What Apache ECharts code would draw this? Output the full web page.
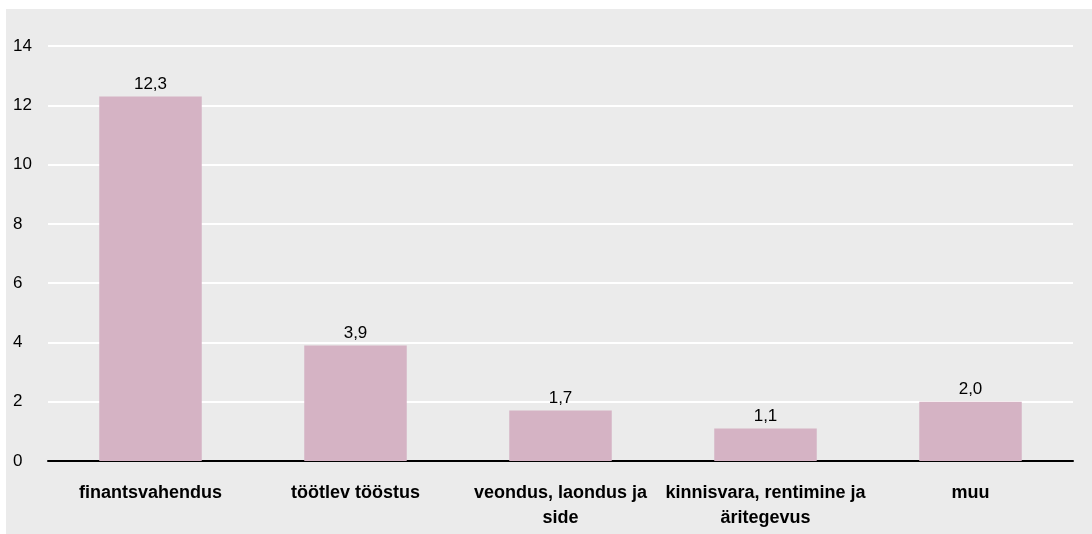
<!DOCTYPE html>
<html>
<head>
<meta charset="utf-8">
<script src="https://cdn.jsdelivr.net/npm/echarts@6/dist/echarts.min.js"></script>
<style>
    html, body { margin: 0; padding: 0; background: #ffffff; }
    #chart { position: absolute; left: 6px; top: 9px; width: 1086px; height: 525px; }
</style>
</head>
<body>
<div id="chart"></div>
<script>
// andmed
const categories = ['finantsvahendus', 'töötlev tööstus', 'veondus, laondus ja\nside', 'kinnisvara, rentimine ja\näritegevus', 'muu'];
const values = [12.3, 3.9, 1.7, 1.1, 2.0];

const chart = echarts.init(document.getElementById('chart'));

const option = {
    backgroundColor: '#ebebeb',
    animation: false,
    textStyle: { fontFamily: 'Liberation Sans, Arial, sans-serif' },
    grid: { left: 42, right: 19, top: 37, bottom: 73 },
    xAxis: {
        type: 'category',
        data: categories,
        axisLine: { lineStyle: { color: '#000000', width: 2 } },
        axisTick: { show: false },
        axisLabel: {
            color: '#000000',
            fontSize: 18,
            fontWeight: 'bold',
            margin: 20,
            lineHeight: 25,
            interval: 0,
        },
    },
    yAxis: {
        type: 'value',
        min: 0,
        max: 14,
        interval: 2,
        axisLine: { show: false },
        axisTick: { show: false },
        axisLabel: { color: '#000000', fontSize: 17, align: 'left', margin: 35 },
        splitLine: { lineStyle: { color: '#ffffff', width: 2 } },
    },
    series: [{
        type: 'bar',
        data: values,
        barWidth: '50%',
        itemStyle: { color: '#d5b3c4' },
        label: {
            show: true,
            position: 'top',
            color: '#000000',
            fontSize: 17,
            distance: 4,
            formatter: p => p.value.toFixed(1).replace('.', ','),
        },
    }],
};

chart.setOption(option);
window.addEventListener('resize', () => chart.resize());
</script>
</body>
</html>
